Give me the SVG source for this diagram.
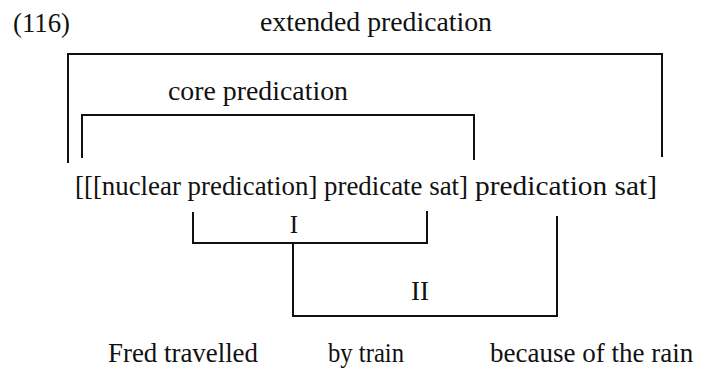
<svg xmlns="http://www.w3.org/2000/svg" width="707" height="373" viewBox="0 0 707 373">
<style>
text{font-family:"Liberation Serif","Times New Roman",serif;font-size:27px;fill:#111}
.ln{fill:none;stroke:#111;stroke-width:2;stroke-linecap:square}
</style>
<rect width="707" height="373" fill="#fff"/>
<g id="label-116"><text x="13" y="32" textLength="57" lengthAdjust="spacingAndGlyphs">(116)</text></g>
<g id="extended"><text x="260" y="31" textLength="232" lengthAdjust="spacingAndGlyphs">extended predication</text></g>
<g id="core"><text x="168" y="100" textLength="180" lengthAdjust="spacingAndGlyphs">core predication</text></g>
<g id="structure"><text y="195"><tspan x="75" textLength="393" lengthAdjust="spacingAndGlyphs">[[[nuclear predication] predicate sat]</tspan> <tspan x="475" textLength="182" lengthAdjust="spacingAndGlyphs">predication sat]</tspan></text></g>
<g id="label-I"><text x="294" y="233" text-anchor="middle" style="font-size:25px">I</text></g>
<g id="label-II"><text x="420" y="300" text-anchor="middle">II</text></g>
<g id="fred"><text x="108" y="362" textLength="150" lengthAdjust="spacingAndGlyphs">Fred travelled</text></g>
<g id="train"><text x="328" y="362" textLength="76" lengthAdjust="spacingAndGlyphs">by train</text></g>
<g id="rain"><text x="490" y="362">because of the rain</text></g>
<g id="connectors">
<path class="ln" d="M68,162 V54 H662 V156"/>
<path class="ln" d="M82,157 V115 H474 V159"/>
<path class="ln" d="M193,213 V243 H427 V212"/>
<path class="ln" d="M293,243 V316 H557 V217"/>
</g>
</svg>
